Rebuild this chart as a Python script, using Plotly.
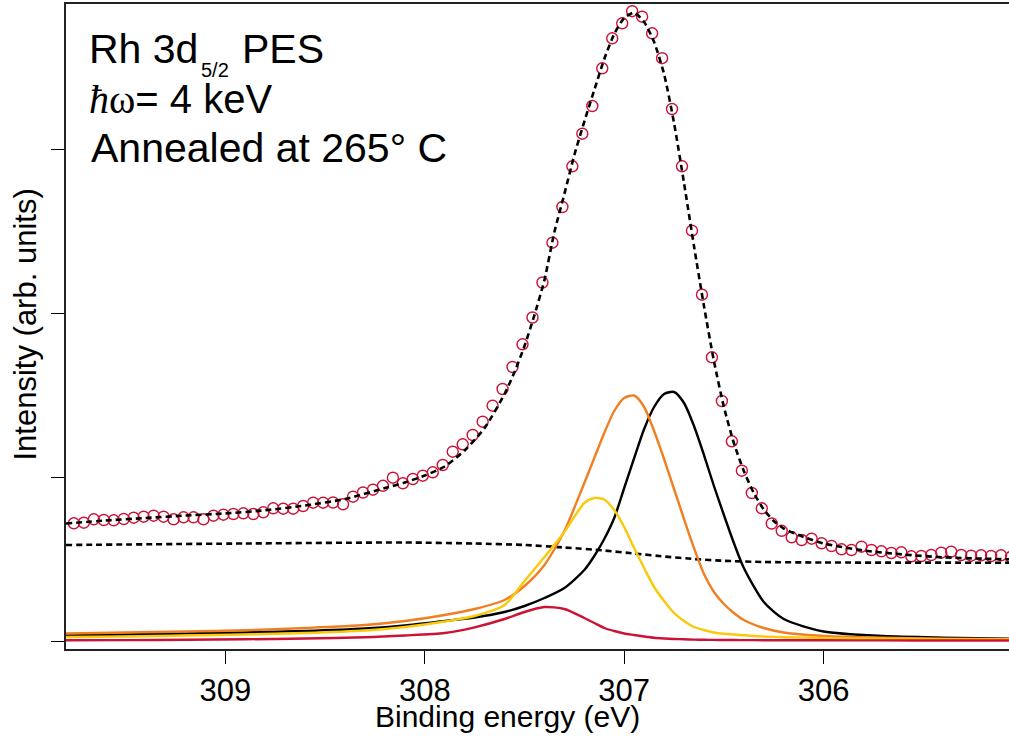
import plotly.graph_objects as go

# ---------------- data ----------------
# measured spectrum (binding energy in eV, intensity in arb. units)
energy = [
    309.76, 309.71, 309.66, 309.61, 309.56, 309.51, 309.46, 309.41, 309.36, 309.31,
    309.26, 309.21, 309.16, 309.11, 309.06, 309.01, 308.96, 308.91, 308.86, 308.81,
    308.76, 308.71, 308.66, 308.61, 308.56, 308.51, 308.46, 308.41, 308.36, 308.31,
    308.26, 308.21, 308.16, 308.11, 308.06, 308.01, 307.96, 307.91, 307.86, 307.81,
    307.76, 307.71, 307.66, 307.61, 307.56, 307.51, 307.46, 307.41, 307.36, 307.31,
    307.26, 307.21, 307.16, 307.11, 307.06, 307.01, 306.96, 306.91, 306.86, 306.81,
    306.76, 306.71, 306.66, 306.61, 306.56, 306.51, 306.46, 306.41, 306.36, 306.31,
    306.26, 306.21, 306.16, 306.11, 306.06, 306.01, 305.96, 305.91, 305.86, 305.81,
    305.76, 305.71, 305.66, 305.61, 305.56, 305.51, 305.46, 305.41, 305.36, 305.31,
    305.26, 305.21, 305.16, 305.11, 305.06,
]
intensity = [
    118.2, 118.8, 122.2, 121.5, 121.2, 122.5, 123.8, 124.8, 125.8, 124.8,
    122.2, 124.2, 124.2, 122.2, 125.8, 126.8, 127.5, 128.2, 127.5, 129.2,
    133.2, 132.8, 132.8, 135.5, 138.8, 138.8, 139.0, 137.2, 144.8, 149.0,
    151.8, 155.7, 163.8, 158.2, 162.5, 165.8, 169.2, 176.5, 189.8, 197.2,
    206.5, 219.8, 235.8, 252.5, 274.5, 297.2, 324.0, 359.0, 398.8, 434.5,
    475.2, 507.8, 535.5, 573.2, 603.2, 618.2, 630.3, 624.8, 608.2, 583.3,
    532.5, 475.2, 410.8, 346.8, 284.2, 240.5, 200.2, 170.8, 148.5, 133.2,
    118.0, 110.7, 104.2, 101.5, 102.8, 98.2, 95.5, 92.2, 91.5, 94.8,
    91.5, 90.2, 88.5, 89.2, 85.2, 85.5, 86.5, 88.8, 89.8, 86.5,
    85.8, 86.2, 85.5, 86.2, 84.5,
]

# total fit (dashed)
fit_energy = [
    309.80, 309.60, 309.40, 309.20, 309.00, 308.80, 308.60, 308.40, 308.20, 308.10,
    308.00, 307.90, 307.80, 307.70, 307.60, 307.55, 307.50, 307.45, 307.40, 307.35,
    307.30, 307.25, 307.20, 307.15, 307.10, 307.05, 307.00, 306.95, 306.90, 306.85,
    306.80, 306.75, 306.70, 306.65, 306.60, 306.55, 306.50, 306.45, 306.40, 306.35,
    306.30, 306.25, 306.20, 306.10, 306.00, 305.80, 305.60, 305.40, 305.20, 305.07,
]
fit_intensity = [
    118.0, 121.0, 123.5, 126.0, 128.1, 131.2, 136.0, 142.5, 153.5, 159.0,
    166.0, 175.0, 191.0, 213.5, 247.5, 269.5, 295.5, 326.5, 361.5, 409.5,
    447.5, 486.5, 520.0, 551.5, 582.5, 607.5, 623.5, 629.0, 619.5, 599.5,
    567.5, 518.5, 458.5, 395.5, 335.5, 280.5, 234.5, 198.5, 170.5, 148.5,
    132.0, 120.5, 113.0, 104.5, 98.0, 91.0, 87.0, 84.2, 82.8, 82.2,
]

# Shirley-type background (dashed)
bg_energy = [309.80, 308.90, 308.10, 307.75, 307.50, 307.30, 307.10, 306.95,
             306.80, 306.65, 306.50, 306.30, 306.00, 305.07]
bg_intensity = [96.5, 98.0, 99.0, 98.0, 96.5, 94.0, 91.0, 88.0,
                85.0, 82.5, 80.7, 79.5, 79.0, 78.8]

# fitted components
comp_energy = [
    309.80, 309.50, 309.20, 308.90, 308.60, 308.30, 308.10, 307.90, 307.75, 307.60,
    307.50, 307.40, 307.30, 307.20, 307.15, 307.10, 307.05, 307.00, 306.95, 306.90,
    306.85, 306.80, 306.75, 306.70, 306.65, 306.60, 306.55, 306.50, 306.45, 306.40,
    306.30, 306.20, 306.00, 305.70, 305.40, 305.07,
]
comp_black = [
    6.0, 7.0, 8.0, 9.0, 10.5, 13.0, 16.0, 20.5, 24.0, 29.5,
    35.5, 43.5, 53.5, 71.5, 85.5, 102.5, 123.5, 153.5, 183.5, 212.5,
    234.5, 247.5, 249.5, 238.5, 215.5, 186.5, 155.5, 126.5, 98.5, 73.5,
    39.5, 22.5, 10.0, 5.5, 3.9, 2.8,
]
comp_orange = [
    8.0, 9.0, 10.0, 11.2, 13.5, 16.5, 20.5, 26.5, 32.5, 41.5,
    55.5, 76.5, 110.5, 158.5, 183.5, 208.5, 230.5, 243.5, 246.0, 234.5,
    210.5, 182.5, 152.5, 122.5, 93.5, 67.5, 49.5, 37.5, 28.5, 21.5,
    13.5, 9.0, 5.5, 3.7, 2.9, 2.3,
]
comp_yellow = [
    4.5, 5.0, 6.0, 7.0, 8.5, 11.0, 14.5, 20.0, 25.5, 36.5,
    60.5, 84.5, 109.5, 138.5, 143.5, 142.0, 131.5, 114.5, 93.5, 73.5,
    54.5, 40.5, 28.5, 20.5, 14.5, 11.5, 9.0, 7.7, 7.0, 6.2,
    5.0, 4.3, 3.5, 2.7, 2.3, 2.0,
]
comp_red = [
    1.2, 1.4, 1.7, 2.2, 3.0, 4.2, 6.0, 8.5, 14.2, 22.5,
    29.5, 34.5, 32.5, 23.5, 18.5, 13.5, 10.5, 8.0, 6.5, 5.0,
    3.7, 3.0, 2.5, 2.2, 1.9, 1.7, 1.6, 1.5, 1.45, 1.4,
    1.3, 1.25, 1.2, 1.1, 1.05, 1.0,
]

x_ticks = [309, 308, 307, 306]
y_ticks = [0, 164, 328, 492]

# ---------------- styles ----------------
RED = "#CC1236"
ORANGE = "#F07F22"
YELLOW = "#FAC90A"
BLACK = "#000000"
FONT = "Liberation Sans, Arial, Helvetica, sans-serif"

fig = go.Figure()

fig.add_trace(go.Scatter(
    x=energy, y=intensity, mode="markers",
    marker=dict(symbol="circle-open", size=11, color=RED, line=dict(width=1.4, color=RED)),
    showlegend=False, hoverinfo="skip"))

fig.add_trace(go.Scatter(
    x=fit_energy, y=fit_intensity, mode="lines",
    line=dict(color=BLACK, width=2.6, dash="6px,4px", shape="spline", smoothing=0.6),
    showlegend=False, hoverinfo="skip"))

fig.add_trace(go.Scatter(
    x=bg_energy, y=bg_intensity, mode="lines",
    line=dict(color=BLACK, width=2.6, dash="6px,4px", shape="spline", smoothing=0.6),
    showlegend=False, hoverinfo="skip"))

for vals, col in [(comp_black, BLACK), (comp_orange, ORANGE), (comp_yellow, YELLOW), (comp_red, RED)]:
    fig.add_trace(go.Scatter(
        x=comp_energy, y=vals, mode="lines",
        line=dict(color=col, width=2.4, shape="spline", smoothing=0.7),
        showlegend=False, hoverinfo="skip"))

W, H = 1009, 736
L, R, T, B = 66, 0, 4, 87
pw, ph = W - L - R, H - T - B


def px(xp):
    return (xp - L) / pw


def py(yp):
    return (H - B - yp) / ph


ann = []
ann.append(dict(text="Rh 3d", x=px(88), y=py(49), font=dict(size=41)))
ann.append(dict(text="5/2", x=px(200), y=py(69.5), font=dict(size=20)))
ann.append(dict(text="PES", x=px(241), y=py(49), font=dict(size=41)))
ann.append(dict(
    text="<span style='font-family:Liberation Serif, Times New Roman, serif'><i>ħ</i>ω</span>= 4 keV",
    x=px(88), y=py(99), font=dict(size=40)))
ann.append(dict(text="Annealed at 265° C", x=px(90), y=py(148.5), font=dict(size=41)))
for a in ann:
    a.update(xref="paper", yref="paper", xanchor="left", yanchor="middle",
             showarrow=False, borderpad=0)
    a["font"].update(family=FONT, color="black")

ann.append(dict(text="Intensity (arb. units)", x=px(25), y=py(324.5), xref="paper", yref="paper",
                xanchor="center", yanchor="middle", textangle=-90, showarrow=False,
                font=dict(family=FONT, size=31, color="black")))
ann.append(dict(text="Binding energy (eV)", x=px(507), y=py(716), xref="paper", yref="paper",
                xanchor="center", yanchor="middle", showarrow=False,
                font=dict(family=FONT, size=30, color="black")))

fig.update_layout(
    width=W, height=H,
    margin=dict(l=L, r=R, t=T, b=B, pad=0),
    paper_bgcolor="white", plot_bgcolor="white",
    font=dict(family=FONT, color="black"),
    annotations=ann,
    xaxis=dict(
        range=[309.7994, 305.0702], tickvals=x_ticks, ticktext=[str(v) for v in x_ticks],
        ticks="outside", ticklen=13, tickwidth=1.2, tickcolor="black",
        showline=True, linecolor="#222222", linewidth=1.5, mirror=True,
        showgrid=False, zeroline=False, tickfont=dict(size=31, family=FONT, color="black"),
    ),
    yaxis=dict(
        range=[-7.5, 637.5], tickvals=y_ticks, showticklabels=False,
        ticks="outside", ticklen=13, tickwidth=1.2, tickcolor="black",
        showline=True, linecolor="#222222", linewidth=1.5, mirror=False,
        showgrid=False, zeroline=False,
    ),
)

fig.write_html("out.html", config={"displayModeBar": False})
